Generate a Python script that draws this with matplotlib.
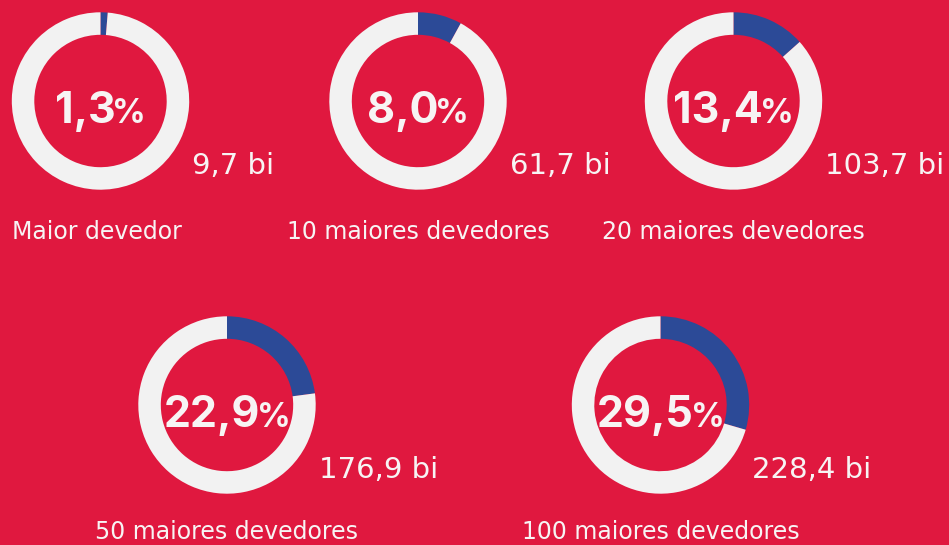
import matplotlib
matplotlib.use("Agg")
import matplotlib.pyplot as plt

# Share of the total debt held by the largest debtors
categories = ["Maior devedor", "10 maiores devedores", "20 maiores devedores",
              "50 maiores devedores", "100 maiores devedores"]
shares = [1.3, 8.0, 13.4, 22.9, 29.5]            # percent
amounts = [9.7, 61.7, 103.7, 176.9, 228.4]        # R$ bilhões

BG = "#E0183F"
BLUE = "#2C4A97"
RING = "#F2F2F2"
WHITE = "#F7F4F4"

W, H = 949, 545
fig = plt.figure(figsize=(W / 100, H / 100), dpi=100, facecolor=BG)
ax = fig.add_axes([0, 0, 1, 1])
ax.set_facecolor(BG)

# layout (pixel units, y measured upward)
centers = [(100.5, 444), (418, 444), (733.5, 444), (227, 140), (660.5, 140)]
radius = 88.7
ring_w = 22.5

def fmt(v):
    return f"{v:.1f}".replace(".", ",")

big_font = dict(family=["Inter", "DejaVu Sans"], weight="bold", color=WHITE)
label_font = dict(family=["DejaVu Sans"], weight="normal", color=WHITE)

num_texts = []
for (cx, cy), s, amt, cat in zip(centers, shares, amounts, categories):
    ax.pie([s, 100 - s], colors=[BLUE, RING], center=(cx, cy), radius=radius,
           startangle=90, counterclock=False,
           wedgeprops=dict(width=ring_w, linewidth=0))
    t1 = ax.text(cx, cy - 22, fmt(s), fontsize=31, ha="left", va="baseline",
                 **big_font)
    t2 = ax.text(cx, cy - 22, "%", fontsize=24, ha="left", va="baseline",
                 **big_font)
    num_texts.append((cx, t1, t2))
    ax.text(cx + 92, cy - 73, f"{fmt(amt)} bi", fontsize=21, ha="left",
            va="baseline", **label_font)
    is_first = cat == "Maior devedor"
    base = cy - 138 if cy > 300 else 6
    ax.text(12 if is_first else cx, base, cat, fontsize=17,
            ha="left" if is_first else "center",
            va="baseline", **label_font)

ax.set_xlim(0, W)
ax.set_ylim(0, H)
ax.set_aspect("equal")
ax.axis("off")

# center the "number + %" groups inside each ring
fig.canvas.draw()
r = fig.canvas.get_renderer()
for cx, t1, t2 in num_texts:
    w1 = t1.get_window_extent(r).width
    w2 = t2.get_window_extent(r).width
    gap = -3
    total = w1 + w2 + gap
    left = cx - total / 2
    t1.set_x(left)
    t2.set_x(left + w1 + gap)

fig.savefig("out.png", dpi=100, facecolor=BG)
